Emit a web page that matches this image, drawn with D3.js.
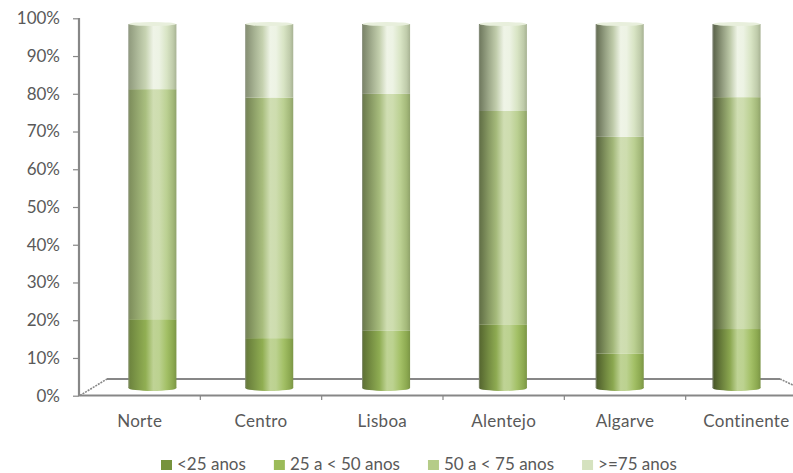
<!DOCTYPE html>
<html>
<head>
<meta charset="utf-8">
<script src="https://cdn.jsdelivr.net/npm/d3@7"></script>
<style>
  html, body { margin: 0; padding: 0; background: #ffffff; }
  svg { display: block; }
  text { font-family: Lato, "Open Sans", sans-serif; fill: #595959; }
</style>
</head>
<body>
<div id="chart"></div>
<script>
// Age structure by region (share of each age group, %)
const categories = ["Norte", "Centro", "Lisboa", "Alentejo", "Algarve", "Continente"];
const seriesNames = ["<25 anos", "25 a < 50 anos", "50 a < 75 anos", ">=75 anos"];
const under25   = [0, 0, 0, 0, 0, 0];
const age25to50 = [18.9, 13.7, 15.7, 17.5, 9.5, 16.2];
const age50to75 = [63.2, 66.1, 65.1, 58.6, 59.5, 63.7];
const over75    = [17.9, 20.2, 19.2, 23.9, 31.0, 20.1];
const yTicks = [0, 0.1, 0.2, 0.3, 0.4, 0.5, 0.6, 0.7, 0.8, 0.9, 1.0];
const seriesColors = ["#77933c", "#9bbb59", "#b5cc88", "#d5e2bf"];

const W = 793, H = 473;
const svg = d3.select("#chart").append("svg").attr("width", W).attr("height", H);
const defs = svg.append("defs");

// Scales: value axis on the front wall, cylinders in the middle depth plane
const yAxisScale = d3.scaleLinear().domain([0, 1]).range([395.7, 18.3]);
const barY = d3.scaleLinear().domain([0, 100]).range([388, 24]);
const xBar = d3.scalePoint().domain(categories).range([94, 795]).padding(0.5);
const xFront = d3.scaleBand().domain(categories).range([79, 807]);
const barW = 48;
const axisCol = "#878787";

// Horizontal shading for each segment; the left side darkens more for bars
// further right, as in a perspective view lit from the front left.
function cylGradient(id, base, darkAmt, si) {
  const dark = t => d3.interpolateRgb(base, "#1c220e")(t * darkAmt);
  const light = t => d3.interpolateRgb(base, "#ffffff")(t);
  const hl = si === 3 ? 0.62 : 0.36;
  const g = defs.append("linearGradient").attr("id", id)
    .attr("x1", "0%").attr("x2", "100%").attr("y1", "0%").attr("y2", "0%");
  [[0, dark(1)], [0.07, dark(0.85)], [0.2, dark(0.55)], [0.36, dark(0.2)],
   [0.52, light(hl)], [0.64, light(hl * 0.92)],
   [0.8, light(0.08)], [0.93, d3.interpolateRgb(base, "#1c220e")(0.12)],
   [1, d3.interpolateRgb(base, "#1c220e")(0.25)]]
    .forEach(([o, col]) => g.append("stop").attr("offset", o).attr("stop-color", col));
}
categories.forEach((c, ci) => {
  const darkAmt = 0.38 + 0.06 * ci;
  seriesColors.forEach((col, si) => cylGradient("cyl" + ci + "_" + si, col, darkAmt, si));
});

// Floor outline behind the cylinders (back edge and depth edges)
const floor = svg.append("g").attr("stroke", axisCol).attr("fill", "none");
floor.append("line").attr("x1", 107).attr("y1", 379).attr("x2", 780).attr("y2", 379).attr("stroke-width", 2.2);
floor.append("line").attr("x1", 80).attr("y1", 395.5).attr("x2", 107).attr("y2", 379)
  .attr("stroke-width", 1.6).attr("stroke-dasharray", "2,1");
floor.append("line").attr("x1", 780).attr("y1", 379).attr("x2", 795).attr("y2", 386)
  .attr("stroke-width", 1.6).attr("stroke-dasharray", "2,1");

// Stacked cylinders
const stackData = categories.map((c, i) => ({
  cat: c, ci: i, vals: [under25[i], age25to50[i], age50to75[i], over75[i]]
}));
const bars = svg.append("g");
stackData.forEach(d => {
  const cx = xBar(d.cat);
  const g = bars.append("g");
  let cum = 0;
  const segs = [];
  d.vals.forEach((v, si) => {
    if (v > 0) segs.push({ si, y0: cum, y1: cum + v });
    cum += v;
  });
  const fill = si => "url(#cyl" + d.ci + "_" + si + ")";
  // rounded base
  g.append("ellipse").attr("cx", cx).attr("cy", barY(0)).attr("rx", barW / 2).attr("ry", 3)
    .attr("fill", fill(segs[0].si));
  segs.forEach(s => {
    g.append("rect")
      .attr("x", cx - barW / 2).attr("width", barW)
      .attr("y", barY(s.y1)).attr("height", barY(s.y0) - barY(s.y1))
      .attr("fill", fill(s.si));
  });
  // faint rim on the left side
  g.append("line").attr("x1", cx - barW / 2 + 0.5).attr("x2", cx - barW / 2 + 0.5)
    .attr("y1", barY(cum) + 1).attr("y2", barY(0))
    .attr("stroke", "#9a9e94").attr("stroke-width", 1).attr("opacity", 0.55);
  // top face
  const last = segs[segs.length - 1];
  g.append("ellipse").attr("cx", cx).attr("cy", barY(cum)).attr("rx", barW / 2 - 0.5).attr("ry", 2)
    .attr("fill", d3.interpolateRgb(seriesColors[last.si], "#ffffff")(0.45));
});

// Front edge of the floor with category ticks
svg.append("line").attr("x1", 79).attr("y1", 395.5).attr("x2", 793).attr("y2", 395.5)
  .attr("stroke", axisCol).attr("stroke-width", 2.2);
const xAxis = d3.axisBottom(xFront).tickSize(0).tickFormat(d => d);
svg.append("g").selectAll("line").data(categories.slice(1)).join("line")
  .attr("x1", d => xFront(d)).attr("x2", d => xFront(d)).attr("y1", 395.5).attr("y2", 400)
  .attr("stroke", axisCol).attr("stroke-width", 1.2);

// Value axis
const yAxis = d3.axisLeft(yAxisScale).tickValues(yTicks).tickFormat(d3.format(".0%"))
  .tickSize(6).tickPadding(13);
const ya = svg.append("g").attr("transform", "translate(79,0)").call(yAxis);
ya.select(".domain").attr("stroke", axisCol).attr("stroke-width", 2.2).attr("d", "M0,18V396");
ya.selectAll(".tick line").attr("stroke", axisCol).attr("stroke-width", 1.2);
ya.selectAll(".tick text").attr("font-size", 17)
  .attr("fill", "#595959").attr("font-family", "Lato, sans-serif");

// Category labels, centred in the front slots
const xa = svg.append("g").attr("transform", "translate(0,395.5)").call(xAxis);
xa.select(".domain").remove();
xa.selectAll(".tick text").attr("y", 0).attr("dy", 31).attr("font-size", 17)
  .attr("letter-spacing", 0.3).attr("fill", "#595959").attr("font-family", "Lato, sans-serif");

// Legend
const legend = svg.append("g");
const items = legend.selectAll("g").data(seriesNames).join("g");
items.append("rect").attr("width", 11).attr("height", 10).attr("y", 460)
  .attr("fill", (d, i) => seriesColors[i]);
items.append("text").attr("x", 16).attr("y", 470).attr("font-size", 17)
  .text(d => d);
const widths = [];
items.each(function () { widths.push(this.getBBox().width); });
let lx = 161;
items.attr("transform", (d, i) => {
  const t = "translate(" + lx + ",0)";
  lx += widths[i] + 28;
  return t;
});
</script>
</body>
</html>
